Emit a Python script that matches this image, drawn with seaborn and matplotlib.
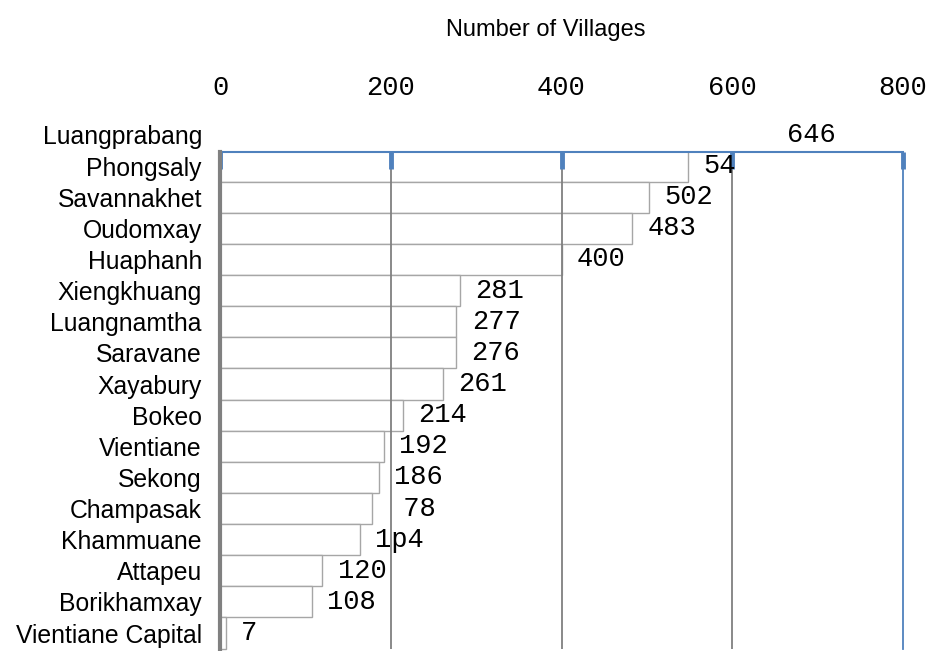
import numpy as np
import pandas as pd
import matplotlib
matplotlib.use("Agg")
from matplotlib import pyplot as plt
from matplotlib.patches import Rectangle
import seaborn as sns

# data
provinces = ['Luangprabang', 'Phongsaly', 'Savannakhet', 'Oudomxay', 'Huaphanh',
             'Xiengkhuang', 'Luangnamtha', 'Saravane', 'Xayabury', 'Bokeo',
             'Vientiane', 'Sekong', 'Champasak', 'Khammuane', 'Attapeu',
             'Borikhamxay', 'Vientiane Capital']
villages = [646, 548, 502, 483, 400, 281, 277, 276, 261, 214, 192, 186, 178, 164, 120, 108, 7]
# value labels as printed in the picture
value_labels = ['646', '54', '502', '483', '400', '281', '277', '276', '261', '214',
                '192', '186', ' 78', '1p4', '120', '108', '7']
x_ticks = [0, 200, 400, 600, 800]

df = pd.DataFrame({'Province': provinces, 'Villages': villages})

sns.set_style('white')
plt.rcParams['font.family'] = ['Liberation Sans', 'DejaVu Sans']
plt.rcParams['text.color'] = 'black'
plt.rcParams['xtick.color'] = 'black'
plt.rcParams['ytick.color'] = 'black'

blue = '#4f81bd'
grey = '#808080'
top_line = 0.55  # where the blue frame line sits, in row units

fig = plt.figure(figsize=(9.36, 6.51), dpi=100)
ax = fig.add_axes([220 / 936, 1 - 648.6 / 651, 683 / 936, (648.6 - 119.4) / 651])

sns.barplot(data=df, x='Villages', y='Province', orient='h', width=1.0,
            color='white', edgecolor='#a6a6a6', linewidth=1.0, ax=ax, zorder=1)

# keep the bar outlines below the top frame line
clip = Rectangle((0, top_line), 800, len(provinces), transform=ax.transData)
for bar in ax.patches:
    bar.set_clip_path(clip)

ax.set_xlim(0, 800)
ax.set_ylim(len(provinces) - 0.5, -0.5)
ax.set_axisbelow(False)

# vertical grid lines
ax.vlines(x_ticks[1:-1], top_line, len(provinces) - 0.5, color=grey, lw=1.3, zorder=1.5)

# value labels
ax.bar_label(ax.containers[0], labels=value_labels, padding=11,
             fontsize=19.5, family='Liberation Mono', color='black')

# x axis on top
ax.xaxis.set_ticks_position('top')
ax.xaxis.set_label_position('top')
ax.set_xticks(x_ticks)
ax.tick_params(axis='x', direction='in', length=12, width=3.5, color=blue, pad=37,
               labelsize=19.5, labelfontfamily='Liberation Mono', labelcolor='black')
ax.tick_params(axis='y', length=0, pad=13, labelsize=17.8, labelcolor='black')
ax.set_xlabel('')
ax.set_ylabel('')

ax.spines['top'].set_position(('data', top_line))
ax.spines['top'].set_color(blue)
ax.spines['top'].set_linewidth(1.5)
ax.spines['right'].set_color(blue)
ax.spines['right'].set_linewidth(1.3)
ax.spines['right'].set_bounds(len(provinces) - 0.5, top_line)
ax.spines['left'].set_color(grey)
ax.spines['left'].set_linewidth(3)
ax.spines['left'].set_bounds(len(provinces) - 0.5, top_line)
ax.spines['left'].set_zorder(4)
ax.spines['bottom'].set_visible(False)

fig.text(546 / 936, 1 - 30 / 651, 'Number of Villages', ha='center', va='center',
         fontsize=17, color='black')

fig.savefig('out.png', dpi=100)
